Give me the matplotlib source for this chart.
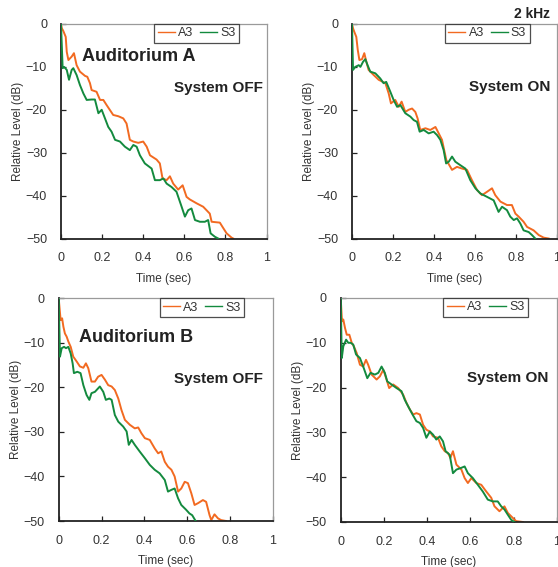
import matplotlib
matplotlib.use("Agg")
import matplotlib.pyplot as plt

# ---------------- data ----------------
# Top-left: Auditorium A, System OFF
tl_a3_t = [0.000, 0.004, 0.011, 0.023, 0.028, 0.036, 0.052, 0.063, 0.076, 0.092, 0.117, 0.128, 0.141, 0.149,
           0.173, 0.190, 0.206, 0.222, 0.254, 0.279, 0.303, 0.319, 0.335, 0.352, 0.376, 0.400, 0.417, 0.433,
           0.465, 0.481, 0.494, 0.514, 0.530, 0.546, 0.570, 0.592, 0.611, 0.627, 0.660, 0.692, 0.724, 0.733,
           0.773, 0.786, 0.806, 0.830, 0.838]
tl_a3_db = [0.0, -1.0, -1.6, -3.0, -6.5, -8.4, -7.6, -6.8, -9.6, -11.1, -12.1, -12.3, -13.8, -15.4,
            -15.8, -17.7, -17.7, -18.9, -21.2, -21.5, -22.0, -23.2, -27.0, -27.4, -27.7, -27.4, -28.6, -30.6,
            -31.6, -32.5, -36.0, -36.4, -35.5, -37.2, -38.6, -37.6, -40.3, -40.9, -41.8, -42.6, -44.2, -46.1,
            -46.3, -47.3, -48.8, -49.8, -50.0]
tl_s3_t = [0.000, 0.008, 0.015, 0.028, 0.039, 0.052, 0.060, 0.076, 0.092, 0.109, 0.125, 0.149, 0.165, 0.182,
           0.198, 0.214, 0.230, 0.246, 0.263, 0.287, 0.311, 0.335, 0.352, 0.368, 0.384, 0.408, 0.441, 0.457,
           0.481, 0.498, 0.514, 0.538, 0.562, 0.587, 0.603, 0.619, 0.635, 0.652, 0.676, 0.700, 0.716, 0.728,
           0.749, 0.765]
tl_s3_db = [0.0, -10.3, -10.0, -10.7, -13.0, -10.7, -10.3, -11.9, -14.2, -16.2, -17.7, -17.6, -17.6, -20.8,
            -20.0, -22.0, -24.0, -25.1, -27.0, -27.4, -28.6, -29.4, -28.2, -28.6, -30.6, -32.5, -33.7, -36.4,
            -36.4, -36.0, -37.2, -38.0, -39.1, -42.6, -44.9, -43.4, -43.0, -45.7, -46.1, -46.1, -45.7, -48.8,
            -49.6, -50.0]

# Top-right: Auditorium A, System ON
tr_a3_t = [0.000, 0.005, 0.011, 0.021, 0.028, 0.036, 0.049, 0.060, 0.070, 0.081, 0.106, 0.130, 0.163, 0.179,
           0.190, 0.211, 0.228, 0.242, 0.260, 0.276, 0.293, 0.309, 0.320, 0.333, 0.358, 0.382, 0.407, 0.423,
           0.439, 0.460, 0.488, 0.512, 0.537, 0.561, 0.585, 0.610, 0.634, 0.659, 0.683, 0.699, 0.724, 0.756,
           0.780, 0.797, 0.813, 0.837, 0.854, 0.886, 0.911, 0.935, 0.959]
tr_a3_db = [0.0, -1.0, -1.8, -3.0, -6.0, -8.4, -8.2, -6.8, -8.8, -10.7, -11.9, -13.0, -13.8, -16.2,
            -18.5, -17.7, -19.3, -18.1, -20.5, -20.0, -19.7, -20.5, -22.0, -24.7, -24.3, -24.7, -24.0, -25.5,
            -27.0, -31.7, -34.0, -33.3, -33.7, -34.0, -36.4, -38.7, -39.9, -39.1, -38.3, -39.9, -41.4, -42.2,
            -42.2, -44.2, -44.9, -46.1, -47.3, -48.1, -49.2, -49.8, -50.0]
tr_s3_t = [0.000, 0.005, 0.016, 0.033, 0.041, 0.054, 0.065, 0.076, 0.089, 0.114, 0.138, 0.154, 0.167, 0.187,
           0.203, 0.220, 0.236, 0.260, 0.285, 0.301, 0.317, 0.330, 0.350, 0.374, 0.398, 0.415, 0.431, 0.447,
           0.459, 0.472, 0.488, 0.504, 0.528, 0.553, 0.577, 0.602, 0.626, 0.659, 0.691, 0.715, 0.732, 0.756,
           0.772, 0.789, 0.805, 0.821, 0.837, 0.862, 0.878, 0.894]
tr_s3_db = [0.0, -10.7, -10.0, -9.6, -10.0, -8.8, -8.2, -9.6, -11.1, -11.5, -12.7, -13.8, -13.5, -15.8,
            -17.7, -19.3, -18.9, -20.8, -21.6, -22.4, -22.8, -25.1, -24.7, -25.5, -25.1, -25.9, -27.0, -29.4,
            -32.5, -32.1, -30.9, -32.1, -32.9, -33.7, -36.4, -38.3, -39.5, -40.3, -41.1, -43.8, -42.6, -43.4,
            -44.9, -45.7, -45.3, -46.5, -48.1, -48.5, -49.2, -50.0]

# Bottom-left: Auditorium B, System OFF
bl_a3_t = [0.000, 0.009, 0.016, 0.022, 0.029, 0.037, 0.045, 0.056, 0.068, 0.084, 0.099, 0.115, 0.127, 0.138,
           0.153, 0.169, 0.184, 0.200, 0.216, 0.231, 0.247, 0.262, 0.278, 0.293, 0.309, 0.332, 0.355, 0.371,
           0.386, 0.402, 0.425, 0.448, 0.464, 0.479, 0.495, 0.510, 0.526, 0.541, 0.557, 0.572, 0.588, 0.603,
           0.619, 0.634, 0.650, 0.673, 0.688, 0.704, 0.712, 0.727, 0.743, 0.758, 0.781]
bl_a3_db = [0.0, -4.9, -4.5, -6.4, -7.9, -8.6, -9.7, -10.9, -13.1, -14.2, -15.3, -15.6, -14.6, -15.7,
            -18.7, -18.7, -17.6, -17.2, -18.3, -19.5, -19.8, -20.6, -22.5, -25.1, -27.3, -28.4, -29.2, -29.0,
            -30.3, -31.4, -31.8, -33.7, -34.8, -34.4, -36.7, -37.8, -38.5, -40.0, -43.4, -42.7, -41.2, -41.5,
            -43.8, -46.4, -46.0, -45.3, -45.7, -48.7, -49.8, -48.5, -49.4, -49.8, -50.0]
bl_s3_t = [0.000, 0.006, 0.014, 0.025, 0.034, 0.045, 0.056, 0.065, 0.071, 0.087, 0.102, 0.115, 0.130, 0.143,
           0.153, 0.169, 0.192, 0.208, 0.220, 0.236, 0.247, 0.262, 0.278, 0.301, 0.317, 0.327, 0.340, 0.355,
           0.378, 0.402, 0.425, 0.448, 0.471, 0.495, 0.510, 0.526, 0.541, 0.557, 0.572, 0.595, 0.610, 0.623,
           0.639]
bl_s3_db = [0.0, -13.1, -11.2, -10.9, -11.2, -10.9, -12.4, -14.6, -16.8, -16.5, -16.8, -19.5, -21.7, -22.8,
            -21.3, -21.0, -19.8, -21.0, -22.8, -22.5, -22.8, -26.2, -27.7, -28.8, -29.9, -32.9, -31.8, -32.9,
            -34.4, -35.9, -37.4, -38.5, -39.3, -40.8, -43.4, -43.0, -42.7, -44.9, -46.4, -47.5, -48.3, -48.7,
            -50.0]

# Bottom-right: Auditorium B, System ON
br_a3_t = [0.000, 0.006, 0.012, 0.020, 0.028, 0.040, 0.051, 0.061, 0.074, 0.089, 0.104, 0.117, 0.127, 0.143,
           0.166, 0.181, 0.197, 0.212, 0.224, 0.243, 0.266, 0.289, 0.304, 0.320, 0.335, 0.350, 0.366, 0.381,
           0.396, 0.412, 0.427, 0.450, 0.465, 0.481, 0.496, 0.507, 0.519, 0.535, 0.558, 0.573, 0.588, 0.604,
           0.627, 0.650, 0.673, 0.696, 0.711, 0.734, 0.757, 0.773, 0.796, 0.811, 0.842]
br_a3_db = [0.0, -5.2, -4.8, -6.7, -8.2, -8.2, -10.0, -10.8, -12.3, -14.9, -15.3, -13.8, -14.9, -17.1,
            -18.2, -17.5, -16.0, -18.2, -20.1, -19.3, -20.1, -21.6, -23.4, -24.9, -26.0, -25.7, -26.0, -28.3,
            -29.4, -29.8, -30.9, -31.2, -33.1, -34.2, -34.6, -35.7, -34.2, -37.2, -38.3, -40.2, -41.3, -40.2,
            -41.3, -41.7, -43.2, -44.6, -46.5, -47.6, -46.5, -48.0, -49.1, -49.8, -50.0]
br_s3_t = [0.000, 0.005, 0.012, 0.025, 0.035, 0.046, 0.058, 0.071, 0.089, 0.104, 0.123, 0.138, 0.158, 0.174,
           0.189, 0.204, 0.215, 0.235, 0.258, 0.281, 0.296, 0.312, 0.332, 0.350, 0.366, 0.381, 0.396, 0.412,
           0.427, 0.442, 0.458, 0.473, 0.485, 0.504, 0.519, 0.535, 0.558, 0.573, 0.588, 0.611, 0.634, 0.657,
           0.680, 0.703, 0.726, 0.742, 0.757, 0.773, 0.788, 0.803]
br_s3_db = [0.0, -13.4, -10.8, -9.3, -10.0, -10.0, -10.4, -12.6, -13.4, -15.3, -17.9, -16.7, -17.1, -16.7,
            -15.3, -16.7, -18.6, -19.3, -20.1, -20.8, -22.7, -24.2, -26.0, -27.5, -27.9, -29.0, -31.2, -29.8,
            -30.5, -31.6, -30.9, -32.0, -34.2, -35.0, -39.1, -38.3, -37.9, -37.6, -39.1, -40.2, -41.7, -43.2,
            -45.0, -45.4, -45.4, -46.5, -47.2, -48.4, -49.5, -50.0]

series_names = ["A3", "S3"]
x_ticks = [0, 0.2, 0.4, 0.6, 0.8, 1]
x_ticklabels = ["0", "0.2", "0.4", "0.6", "0.8", "1"]
y_ticks = [0, -10, -20, -30, -40, -50]
y_ticklabels = ["0", "\u221210", "\u221220", "\u221230", "\u221240", "\u221250"]

panels = [
    dict(a3=(tl_a3_t, tl_a3_db), s3=(tl_s3_t, tl_s3_db), room="Auditorium A", state="System OFF"),
    dict(a3=(tr_a3_t, tr_a3_db), s3=(tr_s3_t, tr_s3_db), room=None, state="System ON"),
    dict(a3=(bl_a3_t, bl_a3_db), s3=(bl_s3_t, bl_s3_db), room="Auditorium B", state="System OFF"),
    dict(a3=(br_a3_t, br_a3_db), s3=(br_s3_t, br_s3_db), room=None, state="System ON"),
]

# ---------------- style ----------------
plt.rcParams['font.family'] = ['Liberation Sans', 'DejaVu Sans']
ORANGE = "#F26A21"
GREEN = "#138A3E"
TXT = "#333333"
SPINE_LIGHT = "#9A9A9A"
SPINE_DARK = "#222222"

W, H = 558, 567
fig = plt.figure(figsize=(W / 100, H / 100), dpi=100)

# axes rectangles in pixels: left, top, right, bottom
rects = [
    (61, 24, 266.5, 238.5),
    (352, 24, 557, 238.5),
    (58.7, 298.3, 273, 521),
    (340.7, 298, 557, 522),
]
room_pos = [(82, 57), None, (79, 337), None]
state_pos = [(263, 88), (550, 87), (263, 379), (548, 378)]

for i, (p, r) in enumerate(zip(panels, rects)):
    l, t, rr, b = r
    ax = fig.add_axes([l / W, 1 - b / H, (rr - l) / W, (b - t) / H])
    ax.plot(p["a3"][0], p["a3"][1], color=ORANGE, lw=1.4, label=series_names[0], zorder=2)
    ax.plot(p["s3"][0], p["s3"][1], color=GREEN, lw=1.4, label=series_names[1], zorder=3)
    ax.set_xlim(0, 1)
    ax.set_ylim(-50, 0)
    ax.set_xticks(x_ticks)
    ax.set_xticklabels(x_ticklabels)
    ax.set_yticks(y_ticks)
    ax.set_yticklabels(y_ticklabels)
    ax.tick_params(direction="in", length=3.5, width=0.9, color=SPINE_DARK, labelsize=9,
                   labelcolor=TXT, pad=10)
    ax.spines["top"].set_color(SPINE_LIGHT)
    ax.spines["right"].set_color(SPINE_LIGHT)
    ax.spines["top"].set_linewidth(0.9)
    ax.spines["right"].set_linewidth(0.9)
    ax.spines["bottom"].set_color(SPINE_DARK)
    ax.spines["left"].set_color(SPINE_DARK)
    ax.spines["bottom"].set_linewidth(1.3)
    ax.spines["left"].set_linewidth(1.3)
    ax.set_xlabel("Time (sec)", fontsize=8.5, color=TXT, labelpad=6)
    ax.set_ylabel("Relative Level (dB)", fontsize=8.5, color=TXT, labelpad=1)
    leg = ax.legend(loc="upper right", bbox_to_anchor=(0.866, 1.0),
                    ncol=2, fontsize=9, frameon=True, fancybox=False, handlelength=1.36,
                    handletextpad=0.25, columnspacing=0.55, borderpad=0.28, borderaxespad=0.0)
    leg.get_frame().set_edgecolor(SPINE_DARK)
    leg.get_frame().set_linewidth(0.9)
    for ln in leg.get_lines():
        ln.set_linewidth(1.0)
    for txt in leg.get_texts():
        txt.set_color(TXT)
    if p["room"]:
        x0, y0 = room_pos[i]
        fig.text(x0 / W, 1 - y0 / H, p["room"], fontsize=13, fontweight="bold",
                 color="#222222", ha="left", va="center")
    x1, y1 = state_pos[i]
    fig.text(x1 / W, 1 - y1 / H, p["state"], fontsize=11, fontweight="bold",
             color="#222222", ha="right", va="center")

fig.text(550 / W, 1 - 14 / H, "2 kHz", fontsize=10, fontweight="bold", color="#222222",
         ha="right", va="center")

fig.savefig("out.png", dpi=100)
